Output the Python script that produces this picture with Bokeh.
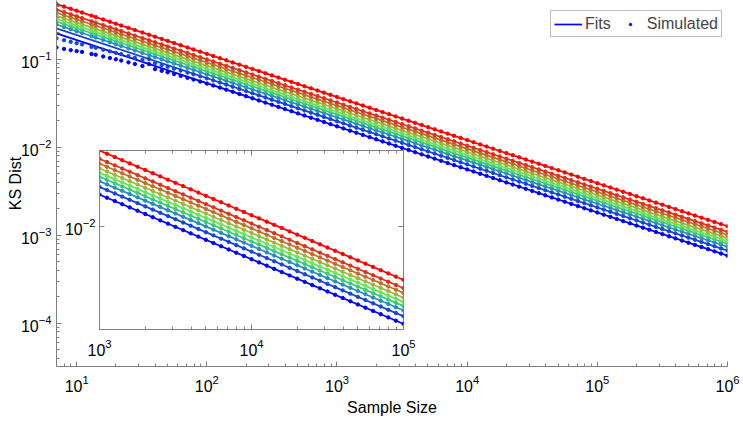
import numpy as np
from bokeh.plotting import figure
from bokeh.models import (Range1d, LogAxis, Legend, LegendItem, GridBox, FixedTicker,
                          CustomJSTickFormatter)
from bokeh.embed import file_html
from bokeh.resources import INLINE

# ---- data ----
# power-law fits  D = c * n^exp  (bottom series first)
fit_coef = [0.513, 0.586, 0.648, 0.700, 0.751, 0.811, 0.880, 0.956, 1.106]
fit_exp = -0.49
fit_n = [7, 1000000]
colors = ["#0000ff", "#1446dc", "#288cbe", "#3cc878", "#64e65a",
          "#a0b43c", "#be6e28", "#e03218", "#ff0000"]

# simulated sample sizes (log-spaced integers)
mantissa = [1.0, 1.12, 1.26, 1.41, 1.58, 1.78, 2.0, 2.24, 2.51, 2.82,
            3.16, 3.55, 3.98, 4.47, 5.01, 5.62, 6.31, 7.08, 7.94, 8.91]
sample_sizes = [7, 8, 9] + [int(round(m * 10 ** d)) for d in range(1, 6) for m in mantissa] + [1000000]

# small-n deviation of simulated values from fit (ratio sim/fit), two lowest series
low_n = [7, 8, 9, 10, 11, 13, 14, 16, 18, 20, 22, 25, 28, 32, 35, 40, 45, 50, 56, 63, 71, 79, 89, 100, 112]
ratio_s0 = [0.693, 0.712, 0.731, 0.750, 0.770, 0.790, 0.805, 0.820, 0.835, 0.850, 0.862, 0.875,
            0.887, 0.899, 0.911, 0.923, 0.935, 0.946, 0.956, 0.965, 0.973, 0.980, 0.986, 0.991, 0.996]
ratio_s1 = [0.770, 0.782, 0.795, 0.808, 0.820, 0.833, 0.845, 0.857, 0.869, 0.881, 0.892, 0.903,
            0.913, 0.923, 0.933, 0.942, 0.951, 0.959, 0.966, 0.973, 0.979, 0.985, 0.990, 0.994, 0.997]
ratios = {0: dict(zip(low_n, ratio_s0)), 1: dict(zip(low_n, ratio_s1))}

inset_xticks = [1e3, 1e4, 1e5]
inset_xminor = [2e3, 3e3, 4e3, 5e3, 6e3, 7e3, 8e3, 9e3, 2e4, 3e4, 4e4, 5e4, 6e4, 7e4, 8e4, 9e4]
inset_yticks = [1e-2]

FONT = "Liberation Sans"
GRAY = "#808080"

def fit_vals(c):
    return [c * n ** fit_exp for n in fit_n]

def sim_vals(i, c):
    r = ratios.get(i, {})
    return [c * n ** fit_exp * r.get(n, 1.0) for n in sample_sizes]

def style_axis(ax, fs="16px"):
    ax.axis_line_color = GRAY
    ax.major_tick_line_color = GRAY
    ax.minor_tick_line_color = GRAY
    ax.major_tick_in = 5
    ax.major_tick_out = 0
    ax.minor_tick_in = 3
    ax.minor_tick_out = 0
    ax.major_label_text_font = FONT
    ax.major_label_text_font_size = fs
    ax.major_label_text_color = "black"
    ax.axis_label_text_font = FONT
    ax.axis_label_text_font_size = "16px"
    ax.axis_label_text_font_style = "normal"
    ax.axis_label_text_color = "black"

# ---- main plot ----
main = figure(width=743, height=421, x_axis_type="log", y_axis_type="log",
              x_range=Range1d(7, 1e6), y_range=Range1d(3.24e-5, 0.468),
              output_backend="svg", toolbar_location=None,
              min_border_left=56, min_border_right=16, min_border_top=0, min_border_bottom=55)
main.frame_align = False
main.outline_line_color = None
main.grid.visible = False
main.xaxis.axis_label = "Sample Size"
main.yaxis.axis_label = "KS Dist"
style_axis(main.xaxis[0])
style_axis(main.yaxis[0])
main.xaxis.major_label_standoff = 8
main.yaxis.major_label_standoff = 5
main.xaxis.axis_label_standoff = 4
main.yaxis.axis_label_standoff = -6

line_r = []
dot_r = []
for i, (c, col) in enumerate(zip(fit_coef, colors)):
    line_r.append(main.line(fit_n, fit_vals(c), line_color=col, line_width=1.7))
for i, (c, col) in enumerate(zip(fit_coef, colors)):
    dot_r.append(main.scatter(sample_sizes, sim_vals(i, c), marker="circle", size=3.4,
                              fill_color=col, line_color=col))

legend = Legend(items=[LegendItem(label="Fits", renderers=[line_r[0]]),
                       LegendItem(label="Simulated", renderers=[dot_r[0]])],
                orientation="horizontal", location=(494, 329),
                border_line_color=GRAY, border_line_width=1, padding=3, spacing=5,
                glyph_width=28, glyph_height=6, label_height=19, label_standoff=3,
                label_text_font=FONT, label_text_font_size="16px", margin=0,
                background_fill_color="white", background_fill_alpha=1.0)
main.add_layout(legend)

# ---- inset ----
inset = figure(width=423, height=369, x_axis_type="log", y_axis_type="log",
               x_range=Range1d(1e3, 1e5), y_range=Range1d(1.65e-3, 0.0375),
               output_backend="svg", toolbar_location=None,
               min_border_left=99, min_border_right=20, min_border_top=150, min_border_bottom=40)
inset.frame_align = False
inset.border_fill_color = None
inset.background_fill_color = "white"
inset.outline_line_color = GRAY
inset.outline_line_width = 1
inset.grid.visible = False
style_axis(inset.xaxis[0])
style_axis(inset.yaxis[0])
inset.xaxis.ticker = FixedTicker(ticks=inset_xticks, minor_ticks=inset_xminor)
inset.yaxis.ticker = FixedTicker(ticks=inset_yticks, minor_ticks=[])
inset.xaxis.major_label_standoff = 9
inset.yaxis.major_label_standoff = 4

blank = CustomJSTickFormatter(code="return ''")
top_ax = LogAxis(ticker=FixedTicker(ticks=inset_xticks, minor_ticks=inset_xminor), formatter=blank)
right_ax = LogAxis(ticker=FixedTicker(ticks=inset_yticks, minor_ticks=[]), formatter=blank)
for ax in (top_ax, right_ax):
    style_axis(ax)
    ax.axis_line_color = None
inset.add_layout(top_ax, "above")
inset.add_layout(right_ax, "right")

for i, (c, col) in enumerate(zip(fit_coef, colors)):
    inset.line(fit_n, fit_vals(c), line_color=col, line_width=1.7)
for i, (c, col) in enumerate(zip(fit_coef, colors)):
    inset.scatter(sample_sizes, sim_vals(i, c), marker="circle", size=3.4,
                  fill_color=col, line_color=col)

layout = GridBox(children=[(main, 0, 0), (inset, 0, 0)])

open("out.html", "w").write(file_html(layout, INLINE))
